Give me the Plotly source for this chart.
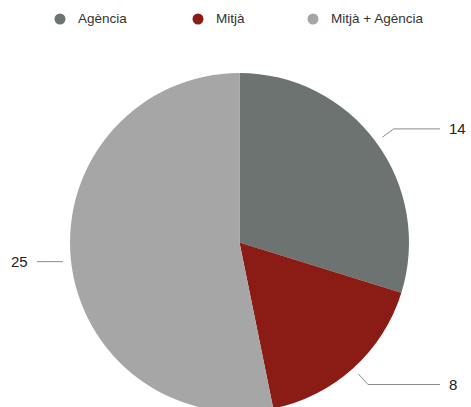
import math

import plotly.graph_objects as go

labels = ["Agència", "Mitjà", "Mitjà + Agència"]
values = [14, 8, 25]
colors = ["#6d7370", "#8b1c15", "#a6a6a6"]

# the pie runs slightly past the bottom of the 407px window, so the
# figure is a little taller and the overflow is hidden
W, H = 471, 420
CX, CY, R = 239.5, 242.5, 169.5  # pie centre / radius in pixels

fig = go.Figure()
fig.add_trace(go.Pie(
    labels=labels,
    values=values,
    marker=dict(colors=colors, line=dict(width=0)),
    sort=False,
    direction="clockwise",
    rotation=0,
    textinfo="none",
    hoverinfo="label+value",
    showlegend=False,
    domain=dict(x=[(CX - R - 40) / W, (CX + R + 40) / W],
                y=[1 - (CY + R) / H, 1 - (CY - R) / H]),
))

shapes = []
annotations = []

# leader lines + value labels, placed from slice mid angles
total = sum(values)
acc = 0
for v in values:
    mid = (acc + v / 2) / total * 2 * math.pi
    acc += v
    dx, dy = math.sin(mid), -math.cos(mid)
    x1, y1 = CX + (R + 8) * dx, CY + (R + 8) * dy
    x2, y2 = CX + (R + 22) * dx, CY + (R + 22) * dy
    right = dx >= 0
    x3 = 440 if right else 37
    if not right:
        y1 = y2  # left label sits level with its line
    path = f"M {x1/W},{1-y1/H} L {x2/W},{1-y2/H} L {x3/W},{1-y2/H}"
    shapes.append(dict(type="path", path=path, xref="paper", yref="paper",
                       line=dict(color="#8a8a8a", width=1)))
    annotations.append(dict(
        x=(x3 + 7) / W if right else (x3 - 7) / W, y=1 - y2 / H,
        xref="paper", yref="paper", text=str(v), showarrow=False,
        xanchor="left" if right else "right", yanchor="middle",
        font=dict(size=15, color="#222222"),
    ))

# legend drawn by hand so the markers are round
legend_x = [60, 198, 313]
legend_y = 19
for lx, name, c in zip(legend_x, labels, colors):
    shapes.append(dict(type="circle", xref="paper", yref="paper",
                       x0=(lx - 5.5) / W, x1=(lx + 5.5) / W,
                       y0=1 - (legend_y + 5.5) / H, y1=1 - (legend_y - 5.5) / H,
                       fillcolor=c, line=dict(width=0)))
    annotations.append(dict(
        x=(lx + 16) / W, y=1 - legend_y / H, xref="paper", yref="paper",
        text=name, showarrow=False, xanchor="left", yanchor="middle",
        font=dict(size=13.5, color="#333333"),
    ))

fig.update_layout(
    width=W,
    height=H,
    margin=dict(l=0, r=0, t=0, b=0),
    paper_bgcolor="white",
    plot_bgcolor="white",
    font=dict(family="Liberation Sans, Arial, sans-serif"),
    shapes=shapes,
    annotations=annotations,
)

fig.write_html(
    "out.html",
    config={"displayModeBar": False},
    post_script="document.body.style.margin='0';document.body.style.overflow='hidden';",
)
